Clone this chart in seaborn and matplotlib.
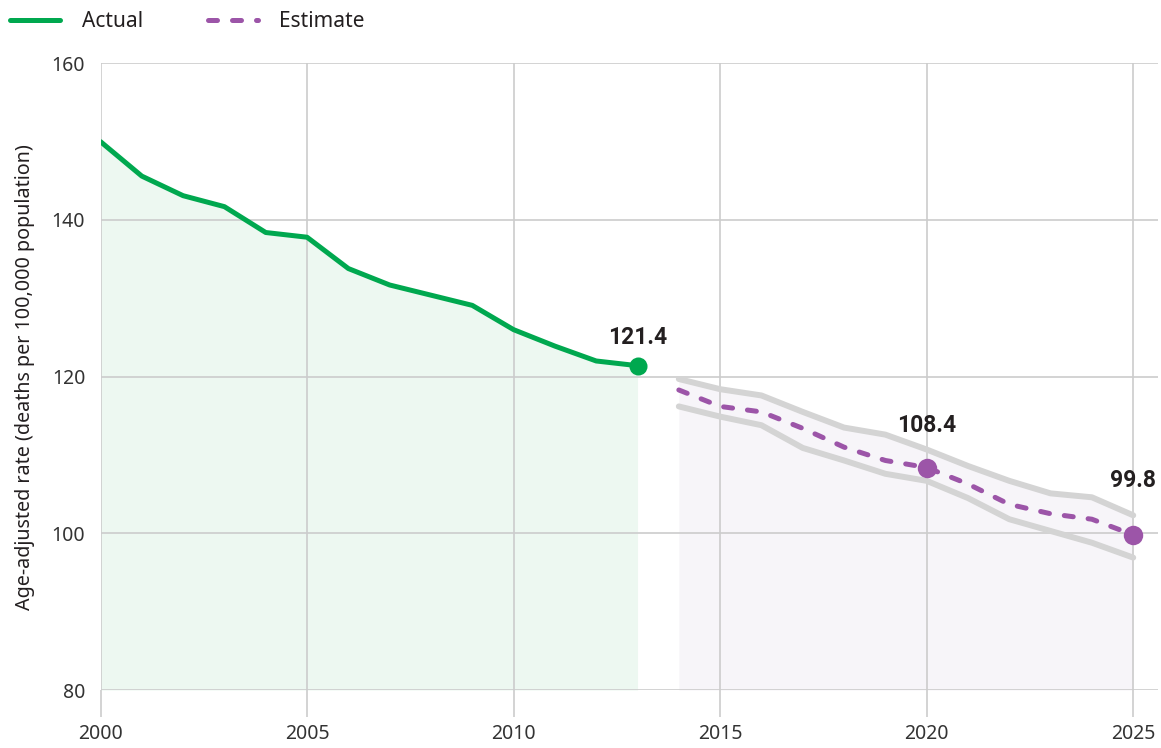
import matplotlib
matplotlib.use("Agg")
import matplotlib.pyplot as plt
from matplotlib.lines import Line2D
import seaborn as sns

# data
years_actual = list(range(2000, 2014))
actual = [150.0, 145.6, 143.1, 141.7, 138.4, 137.8, 133.8, 131.7, 130.4, 129.1,
          126.0, 123.9, 122.0, 121.4]

years_est = list(range(2014, 2026))
est_upper = [119.7, 118.4, 117.6, 115.5, 113.5, 112.6, 110.7, 108.6, 106.7, 105.1, 104.6, 102.3]
estimate = [118.3, 116.2, 115.5, 113.4, 111.0, 109.3, 108.4, 106.3, 103.7, 102.5, 101.8, 99.8]
est_lower = [116.2, 114.9, 113.8, 110.9, 109.3, 107.6, 106.7, 104.5, 101.8, 100.3, 98.8, 96.9]

x_ticks = [2000, 2005, 2010, 2015, 2020, 2025]
y_ticks = [80, 100, 120, 140, 160]
ylabel = "Age-adjusted rate (deaths per 100,000 population)"

green = "#00a84f"
green_fill = "#edf8f1"
purple = "#9c55a8"
purple_fill = "#f7f5f9"
band_gray = "#d4d4d4"
grid_gray = "#cccccc"
text_col = "#231f20"

sns.set_theme(style="white")
plt.rcParams["font.family"] = ["Noto Sans", "DejaVu Sans"]

fig = plt.figure(figsize=(11.61, 7.48), dpi=100)
ax = fig.add_axes([100.5 / 1161, 1 - 690 / 748, (1158 - 100.5) / 1161, (690 - 63.3) / 748])

# fills
ax.fill_between(years_actual, actual, 80, color=green_fill, lw=0, zorder=0.5)
ax.fill_between(years_est, est_upper, 80, color=purple_fill, lw=0, zorder=0.5)

# band lines
sns.lineplot(x=years_est, y=est_upper, ax=ax, color=band_gray, lw=4.3, zorder=2)
sns.lineplot(x=years_est, y=est_lower, ax=ax, color=band_gray, lw=4.3, zorder=2)

# main lines
sns.lineplot(x=years_actual, y=actual, ax=ax, color=green, lw=3.6,
             solid_capstyle="round", zorder=3)
sns.lineplot(x=years_est, y=estimate, ax=ax, color=purple, lw=3.6,
             linestyle=(0, (1.8, 3.0)), dash_capstyle="round", zorder=3)

# highlighted points
hl = [(years_actual[-1], actual[-1], green, 13, 20.5),
      (2020, estimate[years_est.index(2020)], purple, 14, 30),
      (2025, estimate[years_est.index(2025)], purple, 14, 39)]
for xv, yv, c, ms, off in hl:
    ax.plot([xv], [yv], "o", color=c, ms=ms, mew=0, zorder=4)
    ax.annotate(f"{yv:.1f}", (xv, yv), xytext=(0, off), textcoords="offset points",
                ha="center", va="center", fontsize=16.5, fontweight="bold",
                family=["Roboto", "DejaVu Sans"], color=text_col, zorder=5)

ax.set_xlim(2000, 2025.6)
ax.set_ylim(80, 160)
ax.set_xticks(x_ticks)
ax.set_yticks(y_ticks)
ax.set_xticklabels([str(t) for t in x_ticks])
ax.grid(True, color=grid_gray, lw=1.2)
ax.set_axisbelow("line")
for s in ax.spines.values():
    s.set_visible(False)

ax.tick_params(axis="x", length=19.4, width=1.2, color=grid_gray, pad=5,
               labelsize=14, labelcolor="#333333", bottom=True)
ax.tick_params(axis="y", length=0, pad=11, labelsize=14, labelcolor="#333333", left=True)

ax.set_xlabel("")
ax.set_ylabel(ylabel, fontsize=14.2, color=text_col)
ax.yaxis.set_label_coords(-0.062, 0.5)

handles = [Line2D([], [], color=green, lw=3.6, solid_capstyle="round"),
           Line2D([], [], color=purple, lw=3.6, linestyle=(0, (1.8, 3.0)),
                  dash_capstyle="round")]
fig.legend(handles, ["Actual", "Estimate"], loc="center left",
           bbox_to_anchor=(10 / 1161, 1 - 21.7 / 748), ncol=2, frameon=False,
           fontsize=15, handlelength=2.4, handletextpad=1.05, columnspacing=3.1,
           borderpad=0, borderaxespad=0, labelcolor=text_col)

fig.savefig("out.png", dpi=100)
